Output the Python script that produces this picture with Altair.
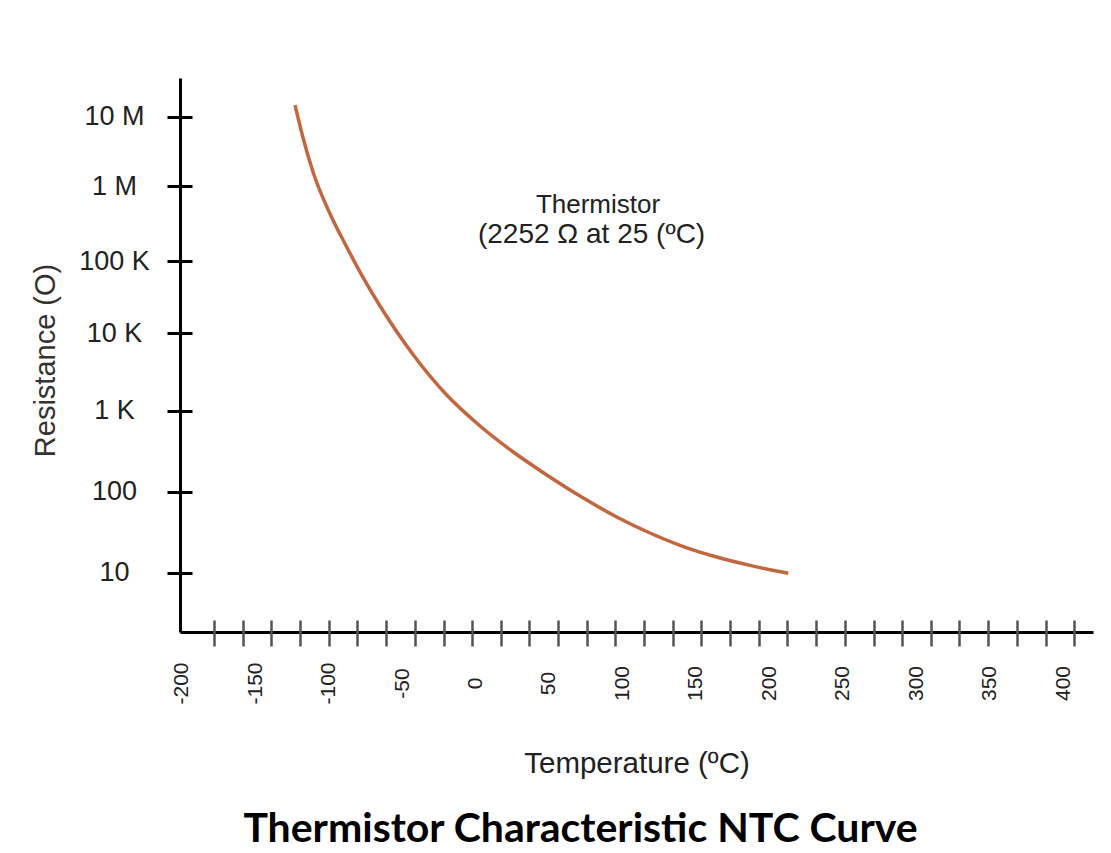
import altair as alt
import pandas as pd

# Curve: temperature (°C) and resistance (ohm)
temps = [-122.9, -117.2, -110.4, -99.0, -87.7, -76.4, -65.0, -42.3, -19.6,
         3.1, 25.7, 48.5, 73.4, 96.1, 118.8, 141.5, 164.2, 186.9, 212.9]
resist = [14.7e6, 4.76e6, 1.54e6, 423e3, 154e3, 58.1e3, 23.7e3, 5.21e3, 1.59e3,
          647, 309, 161, 83.6, 48.8, 30.9, 21.0, 15.6, 12.3, 9.83]

# Axis labels / ticks
x_label_values = [-200, -150, -100, -50, 0, 50, 100, 150, 200, 250, 300, 350, 400]
x_tick_values = [-178.0, -158.5, -139.0, -119.4, -99.9, -80.4, -60.9, -41.4, -21.8, -2.3,
                 17.2, 36.7, 56.2, 75.8, 95.3, 114.8, 134.3, 153.8, 173.4, 192.9,
                 212.4, 231.9, 251.4, 271.0, 290.5, 310.0, 329.5, 349.0, 368.6, 388.1, 407.6]
y_tick_values = [10, 100, 1e3, 1e4, 1e5, 1e6, 1e7]
y_tick_labels = ["10", "100", "1 K", "10 K", "100 K", "1 M", "10 M"]

# Annotation (two lines)
ann1_temp, ann1_res, ann1_text = [83.4], [5.60e5], ["Thermistor"]
ann2_temp, ann2_res, ann2_text = [79.0], [2.25e5], ["(2252 \u03a9 at 25 (\u00baC)"]

df = pd.DataFrame({"T": temps, "R": resist})
ann1 = pd.DataFrame({"T": ann1_temp, "R": ann1_res, "label": ann1_text})
ann2 = pd.DataFrame({"T": ann2_temp, "R": ann2_res, "label": ann2_text})

FONT = "Liberation Sans"

xscale = alt.Scale(domain=[-201.2, 420.4], nice=False, zero=False)
# the picture's decades are not evenly spaced: piecewise log scale through each decade tick
yscale = alt.Scale(type="log", nice=False,
                   domain=[1.85, 10, 100, 1e3, 1e4, 1e5, 1e6, 1e7, 3.62e7],
                   range=[554, 494.7, 413.7, 332.7, 255, 183, 108, 38.7, 0])

label_arr = "[" + ",".join("'%s'" % s for s in y_tick_labels) + "]"
y_label_expr = label_arr + "[round(log(datum.value)/LN10)-1]"

line = alt.Chart(df).mark_line(
    color="#c2673f", strokeWidth=3.5, interpolate="monotone"
).encode(
    x=alt.X("T:Q", scale=xscale,
            axis=alt.Axis(orient="bottom", values=x_label_values, grid=False,
                          ticks=False, tickSize=0, domain=True, domainColor="black",
                          domainWidth=3, labelAngle=270, labelAlign="center",
                          labelBaseline="middle", labelPadding=51, labelFont=FONT,
                          labelFontSize=21, labelColor="#222", labelFlush=False,
                          labelOverlap=False, labelExpr="'' + datum.value",
                          title="Temperature (\u00baC)", titleFont=FONT, titleFontSize=29.5,
                          titleFontWeight="normal", titleColor="#222", titlePadding=45)),
    y=alt.Y("R:Q", scale=yscale,
            axis=alt.Axis(orient="left", values=y_tick_values, grid=False,
                          ticks=False, tickSize=0, domain=True, domainColor="black",
                          domainWidth=3, labelAlign="center", labelBaseline="middle",
                          labelPadding=66, labelExpr=y_label_expr, labelFont=FONT,
                          labelFontSize=27, labelColor="#222", labelFlush=False,
                          labelOverlap=False,
                          title="Resistance (O)", titleFont=FONT, titleFontSize=29,
                          titleFontWeight="normal", titleColor="#333", titlePadding=18,
                          titleY=282)),
)

text1 = alt.Chart(ann1).mark_text(
    font=FONT, fontSize=26, color="#222", align="center", baseline="middle"
).encode(
    x=alt.X("T:Q", scale=xscale,
            axis=alt.Axis(orient="bottom", values=x_tick_values, grid=False, labels=False,
                          domain=False, ticks=True, tickSize=26, tickWidth=2.5,
                          tickColor="#555", offset=-12, title=None)),
    y=alt.Y("R:Q", scale=yscale,
            axis=alt.Axis(orient="left", values=y_tick_values, grid=False, labels=False,
                          domain=False, ticks=True, tickSize=25, tickWidth=3,
                          tickColor="black", offset=-12, title=None)),
    text="label:N",
)

text2 = alt.Chart(ann2).mark_text(
    font=FONT, fontSize=28, color="#222", align="center", baseline="middle"
).encode(
    x=alt.X("T:Q", scale=xscale, axis=None),
    y=alt.Y("R:Q", scale=yscale, axis=None),
    text="label:N",
)

chart = alt.layer(line, text1, text2).resolve_axis(x="independent", y="independent").properties(
    width=913, height=554,
    autosize=alt.AutoSizeParams(type="none"),
    padding={"left": 172, "top": 70, "right": 10, "bottom": 221},
    background="white",
    title=alt.TitleParams(text="Thermistor Characteristic NTC Curve", orient="bottom",
                          anchor="middle", font="Lato", fontSize=41, fontWeight="bold",
                          color="black", dx=-56, offset=32),
).configure_view(stroke=None)

chart.save("out.html", embed_options={"renderer": "svg", "actions": False})
